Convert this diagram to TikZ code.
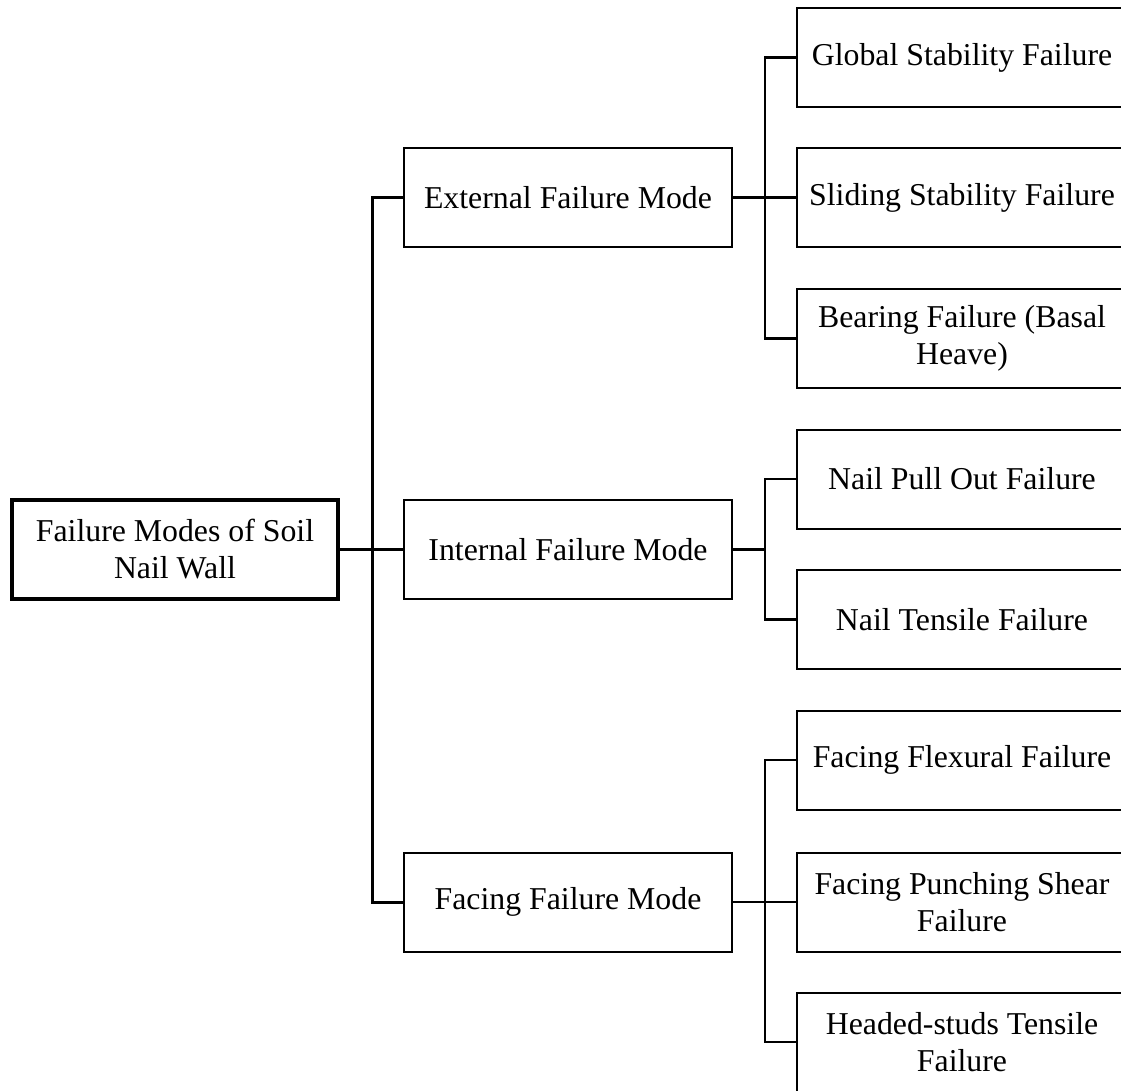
\documentclass[tikz,border=0pt]{standalone}
\usepackage{fontspec}
\setmainfont{Liberation Serif}
\begin{document}
\begin{tikzpicture}[x=1pt,y=-1pt,
  box/.style={draw=black,line width=2pt,minimum height=99pt,inner sep=0pt,align=center,
    font=\fontsize{31.8}{37}\selectfont},
  rootbox/.style={box,line width=3.5pt,minimum width=326pt},
  midbox/.style={box,minimum width=328pt},
  leafbox/.style={box,minimum width=330pt},
  conA/.style={line width=3pt,line join=miter},
  conB/.style={line width=2.3pt,line join=miter}]
\useasboundingbox (0,0) rectangle (1121,1090);
\node[rootbox] (root) at (175,549.5) {Failure Modes of Soil\\Nail Wall};
\node[midbox] (ext) at (568,197.5) {External Failure Mode};
\node[midbox] (int) at (568,549.5) {Internal Failure Mode};
\node[midbox] (fac) at (568,902) {Facing Failure Mode};
\node[leafbox] (l1) at (962,57.5) {Global Stability Failure};
\node[leafbox] (l2) at (962,197.5) {Sliding Stability Failure};
\node[leafbox] (l3) at (962,338.5) {Bearing Failure (Basal\\Heave)};
\node[leafbox] (l4) at (962,479) {Nail Pull Out Failure};
\node[leafbox] (l5) at (962,619.5) {Nail Tensile Failure};
\node[leafbox] (l6) at (962,760) {Facing Flexural Failure};
\node[leafbox] (l7) at (962,902) {Facing Punching Shear\\Failure};
\node[leafbox] (l8) at (962,1042) {Headed-studs Tensile\\Failure};
\coordinate (b0) at (372,549.5);
\coordinate (b1) at (765,197.5);
\coordinate (b2) at (765,549.5);
\coordinate (b3) at (765,902);
\draw[conA] (root.east) -- (b0);
\draw[conA] (b0) |- (ext.west);
\draw[conA] (b0) -- (int.west);
\draw[conA] (b0) |- (fac.west);
\draw[conB] (ext.east) -- (b1);
\draw[conB] (b1) |- (l1.west);
\draw[conB] (b1) -- (l2.west);
\draw[conB] (b1) |- (l3.west);
\draw[conB] (int.east) -- (b2);
\draw[conB] (b2) |- (l4.west);
\draw[conB] (b2) |- (l5.west);
\draw[conB] (fac.east) -- (b3);
\draw[conB] (b3) |- (l6.west);
\draw[conB] (b3) -- (l7.west);
\draw[conB] (b3) |- (l8.west);
\end{tikzpicture}
\end{document}
